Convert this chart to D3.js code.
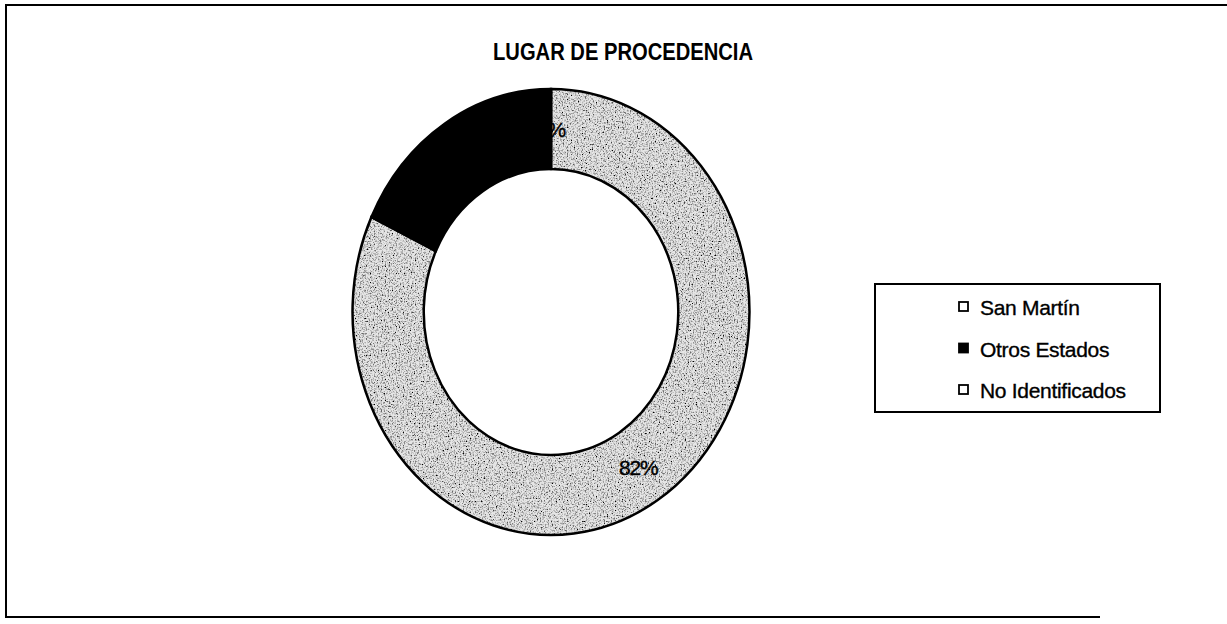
<!DOCTYPE html>
<html>
<head>
<meta charset="utf-8">
<script src="https://cdn.jsdelivr.net/npm/d3@7"></script>
<style>
  html, body { margin: 0; padding: 0; background: #fff; }
  text { font-family: "Liberation Sans", Arial, sans-serif; fill: #000; }
</style>
</head>
<body>
<div id="chart"></div>
<script>
// chart data
var categories = ['San Martín', 'Otros Estados', 'No Identificados'];
var values     = [82, 18, 0];
var labels     = ['82%', '18%', '0%'];
var fills      = ['url(#grain)', '#000', 'url(#grain)'];
var keyFills   = ['#fff', '#000', '#fff'];

var width  = 1227,
    height = 624,
    cx     = 551,
    cy     = 312,
    outerR = 223,
    innerR = 143,
    squash = 0.89;   // scanned chart is a bit narrower than tall

var svg = d3.select('#chart')
    .append('svg')
    .attr('width', width)
    .attr('height', height);

// stippled grey like the printed copy
var defs = svg.append('defs');
var f = defs.append('filter').attr('id', 'speckle')
    .attr('x', 0).attr('y', 0).attr('width', 1).attr('height', 1);
f.append('feTurbulence').attr('type', 'fractalNoise')
    .attr('baseFrequency', 0.65).attr('numOctaves', 2).attr('seed', 4).attr('result', 'n');
f.append('feColorMatrix').attr('in', 'n').attr('type', 'matrix')
    .attr('values', '0 0 0 0 0  0 0 0 0 0  0 0 0 0 0  3 0 0 0 -1.35')
    .attr('result', 'dots');
f.append('feComposite').attr('in', 'dots').attr('in2', 'SourceGraphic')
    .attr('operator', 'in').attr('result', 'dd');
var m = f.append('feMerge');
m.append('feMergeNode').attr('in', 'SourceGraphic');
m.append('feMergeNode').attr('in', 'dd');

var pat = defs.append('pattern').attr('id', 'grain')
    .attr('patternUnits', 'userSpaceOnUse')
    .attr('width', 600).attr('height', 600)
    .attr('x', -300).attr('y', -300);
pat.append('rect').attr('width', 600).attr('height', 600)
    .attr('fill', '#e6e6e6').attr('filter', 'url(#speckle)');

// frame (right edge is cut off in the scan)
svg.append('path')
    .attr('d', 'M1227,5 L6,5 L6,617 L1100,617')
    .attr('fill', 'none')
    .attr('stroke', '#000')
    .attr('stroke-width', 2);

svg.append('text')
    .attr('x', 623)
    .attr('y', 60)
    .attr('text-anchor', 'middle')
    .attr('font-size', 23)
    .attr('font-weight', 'bold')
    .attr('textLength', 260)
    .attr('lengthAdjust', 'spacingAndGlyphs')
    .text('LUGAR DE PROCEDENCIA');

var pie = d3.pie().sort(null).value(function (d) { return d; });
var arcs = pie(values);

var arc = d3.arc().innerRadius(innerR).outerRadius(outerR);
var mid = d3.arc().innerRadius((innerR + outerR) / 2).outerRadius((innerR + outerR) / 2);

var g = svg.append('g')
    .attr('transform', 'translate(' + cx + ',' + cy + ') scale(' + squash + ',1)');

g.selectAll('path')
    .data(arcs)
    .enter()
    .append('path')
    .attr('d', arc)
    .attr('fill', function (d, i) { return fills[i]; })
    .attr('stroke', '#000')
    .attr('stroke-width', 2.5)
    .attr('vector-effect', 'non-scaling-stroke');

// data labels, drawn unscaled at the ring's middle
svg.selectAll('text.lbl')
    .data(arcs)
    .enter()
    .append('text')
    .attr('class', 'lbl')
    .attr('x', function (d) { return cx + mid.centroid(d)[0] * squash; })
    .attr('y', function (d) { return cy + mid.centroid(d)[1] + 8; })
    .attr('text-anchor', 'middle')
    .attr('font-size', 21)
    .attr('letter-spacing', -1.2)
    .attr('stroke', '#000')
    .attr('stroke-width', 0.4)
    .text(function (d, i) { return labels[i]; });

// legend
var lg = svg.append('g').attr('transform', 'translate(875,284)');
lg.append('rect')
    .attr('width', 285)
    .attr('height', 128)
    .attr('fill', '#fff')
    .attr('stroke', '#000')
    .attr('stroke-width', 2);

var rows = lg.selectAll('g.item')
    .data(categories)
    .enter()
    .append('g')
    .attr('class', 'item')
    .attr('transform', function (d, i) { return 'translate(84,' + (18 + i * 41.5) + ')'; });

rows.append('rect')
    .attr('width', 9)
    .attr('height', 9)
    .attr('fill', function (d, i) { return keyFills[i]; })
    .attr('stroke', '#000')
    .attr('stroke-width', 1.8);

rows.append('text')
    .attr('x', 21)
    .attr('y', 13)
    .attr('font-size', 21)
    .attr('letter-spacing', -0.3)
    .attr('stroke', '#000')
    .attr('stroke-width', 0.35)
    .text(function (d) { return d; });
</script>
</body>
</html>
